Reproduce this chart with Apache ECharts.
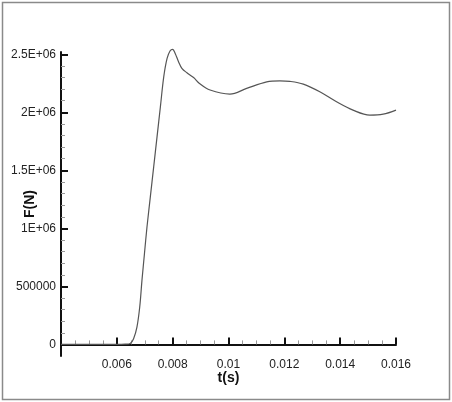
<!DOCTYPE html>
<html>
<head>
<meta charset="utf-8">
<script src="https://cdn.jsdelivr.net/npm/echarts@6/dist/echarts.min.js"></script>
<style>
  html, body { margin: 0; padding: 0; background: #fff; }
  #chart { width: 452px; height: 402px; }
</style>
</head>
<body>
<div id="chart"></div>
<script>
// time (s) and force (N)
const timeS = [0.004, 0.005, 0.006, 0.0063, 0.00648, 0.0066, 0.00672, 0.00682, 0.0069, 0.00699,
  0.00708, 0.0072, 0.00732, 0.00744, 0.00756, 0.00768, 0.0078, 0.00791, 0.008, 0.00809,
  0.00821, 0.00833, 0.00851, 0.00875, 0.00896, 0.00934, 0.01005, 0.01065, 0.01137, 0.01184,
  0.0122, 0.01268, 0.01327, 0.01387, 0.01446, 0.01506, 0.01554, 0.016];
const forceN = [0, 0, 0, 2000, 8000, 49000, 149000, 322000, 552000, 783000,
  1012000, 1271000, 1530000, 1789000, 2047000, 2306000, 2465000, 2531000, 2543000, 2508000,
  2436000, 2379000, 2341000, 2300000, 2249000, 2192000, 2157000, 2206000, 2263000, 2272000,
  2267000, 2243000, 2177000, 2091000, 2019000, 1976000, 1984000, 2019000];

const xTickValues = [0.006, 0.008, 0.01, 0.012, 0.014, 0.016];
const yTickValues = [0, 500000, 1000000, 1500000, 2000000, 2500000];
const yTickLabels = ['0', '500000', '1E+06', '1.5E+06', '2E+06', '2.5E+06'];

// minor ticks
let xMinor = [];
for (let i = 1; i < 24; i++) {
  if (i % 4 != 0) xMinor.push(+(0.004 + i * 0.0005).toFixed(5));
}
let yMinor = [];
for (let i = 1; i < 25; i++) {
  if (i % 5 != 0) yMinor.push(i * 100000);
}

const xMin = 0.004, xMax = 0.016;
const yMin = -100000, yMax = 2520000;

var chart = echarts.init(document.getElementById('chart'));
const font = 'Liberation Sans, Arial, sans-serif';
const option = {
  animation: false,
  backgroundColor: '#fff',
  graphic: [{
    type: 'rect',
    shape: { x: 2.5, y: 2.5, width: 447, height: 397 },
    style: { fill: 'none', stroke: '#8a8a8a', lineWidth: 1.5 },
    silent: true
  }],
  grid: { left: 61, right: 56, top: 52, bottom: 46, outerBoundsMode: 'none' },
  xAxis: [{
    type: 'value',
    min: xMin, max: xMax,
    name: 't(s)',
    nameLocation: 'middle',
    nameGap: 15,
    nameMoveOverlap: false,
    nameTextStyle: { fontFamily: font, fontSize: 14, fontWeight: 'bold', color: '#111' },
    axisLine: { show: true, lineStyle: { color: '#111', width: 2 } },
    axisTick: { show: true, inside: true, length: 7, customValues: xTickValues, lineStyle: { color: '#111', width: 2 } },
    axisLabel: {
      customValues: xTickValues, margin: 3,
      fontFamily: font, fontSize: 12, color: '#222',
      formatter: v => String(+v.toFixed(4))
    },
    splitLine: { show: false }
  }, {
    type: 'value',
    min: xMin, max: xMax,
    position: 'bottom',
    axisLine: { show: false },
    axisTick: { show: true, inside: true, length: 4, customValues: xMinor, lineStyle: { color: '#999', width: 1 } },
    axisLabel: { show: false },
    splitLine: { show: false }
  }],
  yAxis: [{
    type: 'value',
    min: yMin, max: yMax,
    name: 'F(N)',
    nameLocation: 'middle',
    nameGap: 24,
    nameMoveOverlap: false,
    nameTextStyle: { fontFamily: font, fontSize: 14, fontWeight: 'bold', color: '#111' },
    axisLine: { show: true, lineStyle: { color: '#111', width: 2 } },
    axisTick: { show: true, inside: true, length: 7, customValues: yTickValues, lineStyle: { color: '#111', width: 2 } },
    axisLabel: {
      customValues: yTickValues, margin: 5,
      fontFamily: font, fontSize: 12, color: '#222',
      formatter: v => yTickLabels[yTickValues.indexOf(Math.round(v))]
    },
    splitLine: { show: false }
  }, {
    type: 'value',
    min: yMin, max: yMax,
    position: 'left',
    axisLine: { show: false },
    axisTick: { show: true, inside: true, length: 4, customValues: yMinor, lineStyle: { color: '#999', width: 1 } },
    axisLabel: { show: false },
    splitLine: { show: false }
  }],
  series: [{
    type: 'line',
    xAxisIndex: 0,
    yAxisIndex: 0,
    data: timeS.map((t, i) => [t, forceN[i]]),
    smooth: 0.35,
    clip: false,
    showSymbol: false,
    lineStyle: { color: '#555', width: 1.2 }
  }]
};
chart.setOption(option);
</script>
</body>
</html>
